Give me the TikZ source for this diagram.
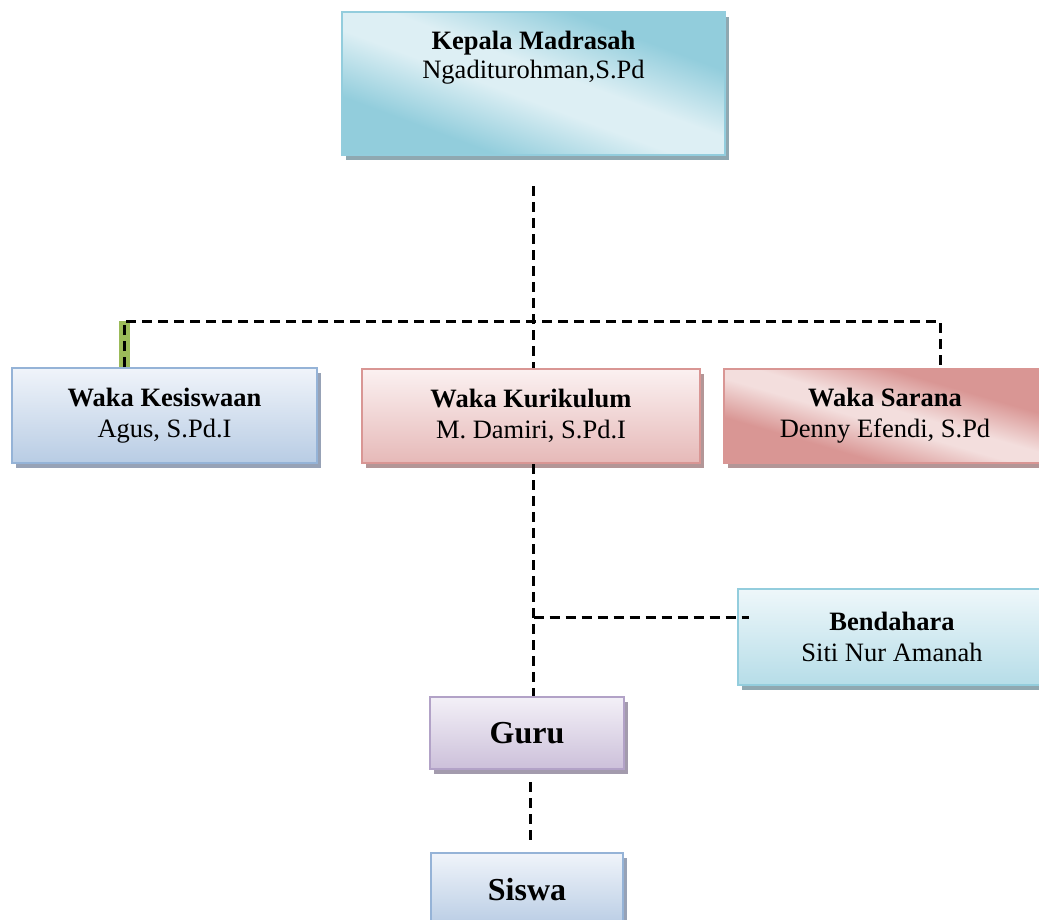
\documentclass[tikz,border=0pt]{standalone}
\usepackage{fontspec}
\setmainfont{Liberation Serif}
\usetikzlibrary{shadows}
\definecolor{kdark}{HTML}{92CDDC}
\definecolor{klight}{HTML}{DDEFF4}
\definecolor{kborder}{HTML}{93CDDD}
\definecolor{kshadow}{HTML}{8FA8B1}
\definecolor{blight}{HTML}{F0F4FA}
\definecolor{bdark}{HTML}{B8CCE4}
\definecolor{bborder}{HTML}{95B3D7}
\definecolor{bshadow}{HTML}{97A2B6}
\definecolor{rlight}{HTML}{FBF1F1}
\definecolor{rdark}{HTML}{E6B9B8}
\definecolor{rborder}{HTML}{D99694}
\definecolor{rshadow}{HTML}{B39697}
\definecolor{sdark}{HTML}{D99694}
\definecolor{slight}{HTML}{F3DEDD}
\definecolor{clight}{HTML}{EEF7FA}
\definecolor{cdark}{HTML}{B6DDE8}
\definecolor{plight}{HTML}{F3F0F7}
\definecolor{pdark}{HTML}{CCC0DA}
\definecolor{pborder}{HTML}{B2A2C7}
\definecolor{pshadow}{HTML}{A39BAD}
\definecolor{kgreen}{HTML}{9BBB59}
\pgfdeclarehorizontalshading{kepalashade}{100bp}{color(0bp)=(kdark); color(31bp)=(kdark); color(46bp)=(klight); color(54bp)=(klight); color(69bp)=(kdark); color(100bp)=(kdark)}
\pgfdeclarehorizontalshading{saranashade}{100bp}{color(0bp)=(sdark); color(34bp)=(sdark); color(47bp)=(slight); color(53bp)=(slight); color(66bp)=(sdark); color(100bp)=(sdark)}
\tikzset{
  box/.style={draw=#1, line width=2pt, font=\fontsize{26.5}{31}\selectfont, align=center, inner sep=0pt},
  shadowed/.style={drop shadow={shadow xshift=4pt, shadow yshift=-4.5pt, fill=#1, opacity=1}},
  vgrad/.style 2 args={top color=#1, bottom color=#2},
  txt/.style={font=\fontsize{26.5}{31}\selectfont, align=center, inner sep=0pt},
  bigtxt/.style={font=\fontsize{32}{38}\selectfont\bfseries},
  dashline/.style={draw=black, line width=3pt, dash pattern=on 10pt off 6pt},
  greenbar/.style={draw=kgreen, line width=11pt}
}
\begin{document}
\begin{tikzpicture}[x=1pt, y=-1pt]
\useasboundingbox (0,0) rectangle (1039,919);
\fill[white] (0,0) rectangle (1039,919);
\clip (0,0) rectangle (1039,919);

\node[box=kborder, shadowed=kshadow, shading=kepalashade, shading angle=69.5,
      minimum width=383pt, minimum height=143pt] (kepala) at (533.5,83.5) {};
\node[txt, anchor=north] (kepalatxt) at ([yshift=-20pt]kepala.north)
      {\textbf{Kepala Madrasah}\\[-2pt]Ngaditurohman,S.Pd};

\node[box=bborder, shadowed=bshadow, vgrad={blight}{bdark},
      minimum width=305pt, minimum height=95pt] (kesiswaan) at (164.5,415.5)
      {\textbf{Waka Kesiswaan}\\Agus, S.Pd.I};
\node[box=rborder, shadowed=rshadow, vgrad={rlight}{rdark},
      minimum width=338pt, minimum height=94pt] (kurikulum) at (531,416)
      {\textbf{Waka Kurikulum}\\M. Damiri, S.Pd.I};
\node[box=rborder, shadowed=rshadow, shading=saranashade, shading angle=73.7,
      minimum width=322pt, minimum height=94pt] (sarana) at (885,416)
      {\textbf{Waka Sarana}\\Denny Efendi, S.Pd};
\node[box=kborder, shadowed=kshadow, vgrad={clight}{cdark},
      minimum width=308pt, minimum height=96pt] (bendahara) at (892,637)
      {\textbf{Bendahara}\\Siti Nur Amanah};
\node[box=pborder, shadowed=pshadow, vgrad={plight}{pdark}, bigtxt,
      minimum width=194pt, minimum height=72pt] (guru) at (527,733) {Guru};
\node[box=bborder, shadowed=bshadow, vgrad={blight}{bdark}, bigtxt,
      minimum width=192pt, minimum height=74pt] (siswa) at (527,890) {Siswa};

% connectors
\coordinate (hl) at (124,321);
\coordinate (hr) at (940,321);
\coordinate (bj) at (533.5,617);
\draw[greenbar] (hl) -- (kesiswaan.north -| hl);
\draw[dashline] ([yshift=-30pt]kepala.south) -- (kepala.south |- kurikulum.north);
\draw[dashline] (kesiswaan.north -| hl) -- (hl) -- (hr) -- (sarana.north -| hr);
\draw[dashline] (kepala.south |- kurikulum.south) -- (kepala.south |- guru.north);
\draw[dashline] (bj) -- ([xshift=12pt]bendahara.west |- bj);
\draw[dashline] ([xshift=3pt, yshift=-12pt]guru.south) -- ([xshift=3pt, yshift=10pt]siswa.north);
\end{tikzpicture}
\end{document}
